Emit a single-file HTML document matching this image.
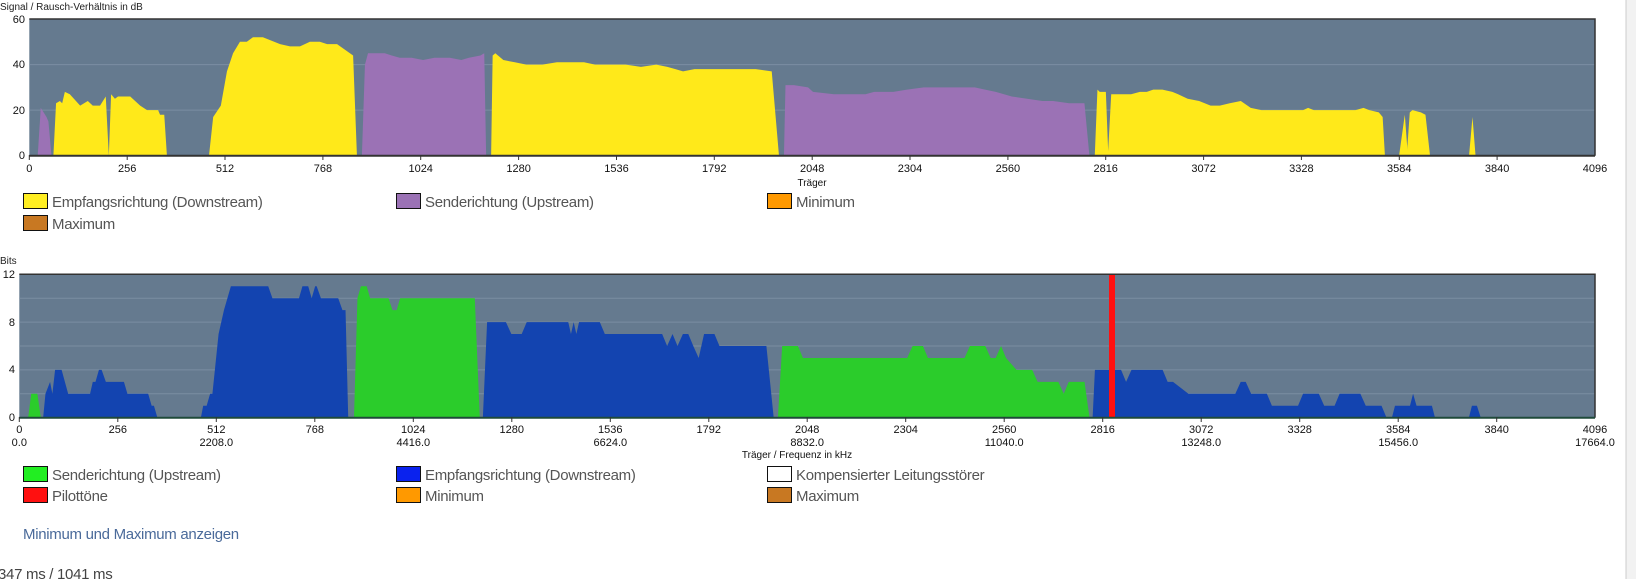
<!DOCTYPE html>
<html><head><meta charset="utf-8"><style>
html,body{margin:0;padding:0;background:#fff;width:1636px;height:579px;overflow:hidden;font-family:"Liberation Sans",sans-serif;}
.lg{position:absolute;font-size:15px;color:#555;white-space:nowrap;letter-spacing:-0.3px}
.lg i{display:inline-block;width:23px;height:14px;border:1px solid #111;vertical-align:-2px;margin-right:4px}
</style></head><body>
<svg width="1636" height="579" style="position:absolute;left:0;top:0" font-family="Liberation Sans, sans-serif">
<!-- TOP CHART -->
<text x="0" y="10" font-size="10" fill="#222">Signal / Rausch-Verhältnis in dB</text>
<rect x="29.3" y="19" width="1566" height="136.7" fill="#657a8f"/>
<g stroke="#7b8ea2" stroke-width="1"><line x1="29.3" x2="1595" y1="64.6" y2="64.6"/><line x1="29.3" x2="1595" y1="110.1" y2="110.1"/></g>
<g transform="translate(29.3,155.7) scale(0.3823,-2.278)">
<polygon fill="#9b72b5" points="22,0 30,21 45,17 50,15 58,0"/>
<polygon fill="#ffe91a" points="63,0 70,23 80,24 86,23 93,28 106,27 133,22 153,24 166,22 185,22 200,26 208,0 214,27 224,25 232,26 264,26 290,22 308,20 337,20 342,18 353,18 360,0"/>
<polygon fill="#ffe91a" points="470,0 481,17 501,22 517,37 533,45 551,50 569,50 585,52 611,52 656,49 682,48 708,48 734,50 760,50 779,49 805,49 847,44 857,0"/>
<polygon fill="#9b72b5" points="870,0 878,40 886,45 930,45 948,44 969,43 1000,43 1030,42 1060,43 1100,43 1130,42 1150,43 1180,44 1190,45 1195,0"/>
<polygon fill="#ffe91a" points="1208,0 1212,44 1219,45 1240,42 1270,41 1300,40 1342,40 1380,41 1420,41 1451,41 1480,40 1520,40 1560,40 1600,39 1640,40 1669,39 1690,38 1710,37 1740,38 1770,38 1805,38 1850,38 1900,38 1942,37 1961,0"/>
<polygon fill="#9b72b5" points="1974,0 1978,31 2000,31 2037,30 2050,28 2105,27 2150,27 2187,27 2210,28 2260,28 2296,29 2340,30 2378,30 2430,30 2473,30 2500,29 2528,28 2570,26 2610,25 2650,24 2678,24 2720,23 2760,23 2773,0"/>
<polygon fill="#ffe91a" points="2787,0 2794,29 2800,28 2816,28 2822,2 2830,27 2860,27 2882,27 2905,28 2923,28 2940,29 2964,29 2990,28 3005,27 3030,25 3060,24 3090,22 3114,22 3140,23 3169,24 3195,21 3223,20 3260,20 3300,20 3332,20 3345,21 3360,20 3430,20 3469,20 3490,21 3505,20 3530,19 3540,17 3546,0"/>
<polygon fill="#ffe91a" points="3583,0 3598,18 3606,0"/>
<polygon fill="#ffe91a" points="3603,0 3611,19 3618,20 3640,19 3652,18 3664,0"/>
<polygon fill="#ffe91a" points="3766,0 3775,17 3783,0"/>
</g>
<polyline points="29.3,19 1595,19 1595,155.7" fill="none" stroke="#333" stroke-width="1.5"/>
<line x1="29.3" y1="155.7" x2="1595" y2="155.7" stroke="#333" stroke-width="2"/>
<g font-size="11" fill="#111" text-anchor="end">
<text x="25" y="159">0</text><text x="25" y="114">20</text><text x="25" y="68">40</text><text x="25" y="23">60</text>
</g>
<g font-size="11" fill="#111" text-anchor="middle">
<text x="29.3" y="172">0</text><text x="127.2" y="172">256</text><text x="225" y="172">512</text><text x="322.9" y="172">768</text><text x="420.7" y="172">1024</text><text x="518.6" y="172">1280</text><text x="616.5" y="172">1536</text><text x="714.3" y="172">1792</text><text x="812.2" y="172">2048</text><text x="910" y="172">2304</text><text x="1007.9" y="172">2560</text><text x="1105.7" y="172">2816</text><text x="1203.6" y="172">3072</text><text x="1301.4" y="172">3328</text><text x="1399.3" y="172">3584</text><text x="1497.1" y="172">3840</text><text x="1595" y="172">4096</text>
<text x="812" y="186" font-size="10">Träger</text>
</g>
<g stroke="#333"><line x1="29.3" x2="29.3" y1="155" y2="160"/><line x1="127.2" x2="127.2" y1="155" y2="160"/><line x1="225" x2="225" y1="155" y2="160"/><line x1="322.9" x2="322.9" y1="155" y2="160"/><line x1="420.7" x2="420.7" y1="155" y2="160"/><line x1="518.6" x2="518.6" y1="155" y2="160"/><line x1="616.5" x2="616.5" y1="155" y2="160"/><line x1="714.3" x2="714.3" y1="155" y2="160"/><line x1="812.2" x2="812.2" y1="155" y2="160"/><line x1="910" x2="910" y1="155" y2="160"/><line x1="1007.9" x2="1007.9" y1="155" y2="160"/><line x1="1105.7" x2="1105.7" y1="155" y2="160"/><line x1="1203.6" x2="1203.6" y1="155" y2="160"/><line x1="1301.4" x2="1301.4" y1="155" y2="160"/><line x1="1399.3" x2="1399.3" y1="155" y2="160"/><line x1="1497.1" x2="1497.1" y1="155" y2="160"/></g>

<!-- BOTTOM CHART -->
<text x="0" y="264" font-size="10" fill="#222">Bits</text>
<rect x="19.3" y="274.3" width="1575.7" height="143.4" fill="#657a8f"/>
<g stroke="#7b8ea2" stroke-width="1"><line x1="19.3" x2="1595" y1="298.2" y2="298.2"/><line x1="19.3" x2="1595" y1="322.1" y2="322.1"/><line x1="19.3" x2="1595" y1="346" y2="346"/><line x1="19.3" x2="1595" y1="369.9" y2="369.9"/><line x1="19.3" x2="1595" y1="393.8" y2="393.8"/></g>
<g transform="translate(19.3,417.7) scale(0.3847,-11.95)">
<polygon fill="#2bcc2b" points="23,0 31,2 47,2 56,0"/>
<polygon fill="#1344b0" points="62,0 68,2 80,3 86,2 93,4 110,4 127,2 184,2 191,3 198,3 207,4 214,4 225,3 272,3 281,2 335,2 344,1 350,1 359,0"/>
<polygon fill="#1344b0" points="472,0 478,1 487,1 496,2 502,2 518,7 532,9 550,11 647,11 658,10 727,10 736,11 751,11 760,10 769,11 773,11 784,10 829,10 840,9 848,9 855,0"/>
<polygon fill="#2bcc2b" points="870,0 879,10 888,11 903,11 912,10 960,10 970,9 981,9 990,10 1184,10 1197,0"/>
<polygon fill="#1344b0" points="1205,0 1216,8 1265,8 1279,7 1306,7 1319,8 1427,8 1434,7 1441,8 1448,7 1455,8 1509,8 1522,7 1671,7 1684,6 1698,7 1711,6 1725,7 1739,7 1752,6 1766,5 1780,7 1807,7 1820,6 1942,6 1961,0"/>
<polygon fill="#2bcc2b" points="1972,0 1983,6 2024,6 2037,5 2308,5 2322,6 2349,6 2362,5 2457,5 2471,6 2511,6 2525,5 2538,5 2552,6 2565,5 2592,4 2633,4 2647,3 2701,3 2715,2 2728,3 2769,3 2782,0"/>
<polygon fill="#1344b0" points="2790,0 2796,4 2864,4 2877,3 2891,4 2972,4 2985,3 2999,3 3039,2 3161,2 3175,3 3188,3 3202,2 3243,2 3256,1 3324,1 3337,2 3378,2 3392,1 3419,1 3432,2 3486,2 3500,1 3541,1 3554,0"/>
<polygon fill="#1344b0" points="3568,0 3576,1 3615,1 3623,2 3632,1 3672,1 3680,0"/>
<polygon fill="#1344b0" points="3768,0 3776,1 3789,1 3799,0"/>
</g>
<rect x="1109" y="274.3" width="6" height="143.4" fill="#ff1010"/>
<polyline points="19.3,274.3 1595,274.3 1595,417.7" fill="none" stroke="#333" stroke-width="1.5"/>
<line x1="19.3" y1="417.7" x2="1595" y2="417.7" stroke="#1f4a3a" stroke-width="2"/>
<g font-size="11" fill="#111" text-anchor="end">
<text x="15" y="421">0</text><text x="15" y="373">4</text><text x="15" y="326">8</text><text x="15" y="278">12</text>
</g>
<g font-size="11" fill="#111" text-anchor="middle">
<text x="19.3" y="433">0</text><text x="117.8" y="433">256</text><text x="216.3" y="433">512</text><text x="314.8" y="433">768</text><text x="413.3" y="433">1024</text><text x="511.8" y="433">1280</text><text x="610.3" y="433">1536</text><text x="708.8" y="433">1792</text><text x="807.2" y="433">2048</text><text x="905.7" y="433">2304</text><text x="1004.2" y="433">2560</text><text x="1102.7" y="433">2816</text><text x="1201.2" y="433">3072</text><text x="1299.7" y="433">3328</text><text x="1398.2" y="433">3584</text><text x="1496.7" y="433">3840</text><text x="1595" y="433">4096</text>
<text x="19.3" y="446">0.0</text><text x="216.3" y="446">2208.0</text><text x="413.3" y="446">4416.0</text><text x="610.3" y="446">6624.0</text><text x="807.2" y="446">8832.0</text><text x="1004.2" y="446">11040.0</text><text x="1201.2" y="446">13248.0</text><text x="1398.2" y="446">15456.0</text><text x="1595" y="446">17664.0</text>
<text x="797" y="458" font-size="10">Träger / Frequenz in kHz</text>
</g>
<g stroke="#333"><line x1="19.3" x2="19.3" y1="417" y2="422"/><line x1="117.8" x2="117.8" y1="417" y2="422"/><line x1="216.3" x2="216.3" y1="417" y2="422"/><line x1="314.8" x2="314.8" y1="417" y2="422"/><line x1="413.3" x2="413.3" y1="417" y2="422"/><line x1="511.8" x2="511.8" y1="417" y2="422"/><line x1="610.3" x2="610.3" y1="417" y2="422"/><line x1="708.8" x2="708.8" y1="417" y2="422"/><line x1="807.2" x2="807.2" y1="417" y2="422"/><line x1="905.7" x2="905.7" y1="417" y2="422"/><line x1="1004.2" x2="1004.2" y1="417" y2="422"/><line x1="1102.7" x2="1102.7" y1="417" y2="422"/><line x1="1201.2" x2="1201.2" y1="417" y2="422"/><line x1="1299.7" x2="1299.7" y1="417" y2="422"/><line x1="1398.2" x2="1398.2" y1="417" y2="422"/><line x1="1496.7" x2="1496.7" y1="417" y2="422"/></g>
<rect x="1626" y="0" width="10" height="579" fill="#f2f2f2"/>
<line x1="1626" y1="0" x2="1626" y2="579" stroke="#ccc"/>
</svg>

<div class="lg" style="left:23px;top:193px"><i style="background:#ffee22"></i>Empfangsrichtung (Downstream)</div>
<div class="lg" style="left:396px;top:193px"><i style="background:#9b72b5"></i>Senderichtung (Upstream)</div>
<div class="lg" style="left:767px;top:193px"><i style="background:#ff9900"></i>Minimum</div>
<div class="lg" style="left:23px;top:215px"><i style="background:#c87822"></i>Maximum</div>

<div class="lg" style="left:23px;top:466px"><i style="background:#22ee22"></i>Senderichtung (Upstream)</div>
<div class="lg" style="left:396px;top:466px"><i style="background:#0a22ee"></i>Empfangsrichtung (Downstream)</div>
<div class="lg" style="left:767px;top:466px"><i style="background:#fff"></i>Kompensierter Leitungsstörer</div>
<div class="lg" style="left:23px;top:487px"><i style="background:#ff1010"></i>Pilottöne</div>
<div class="lg" style="left:396px;top:487px"><i style="background:#ff9900"></i>Minimum</div>
<div class="lg" style="left:767px;top:487px"><i style="background:#c87822"></i>Maximum</div>

<div class="lg" style="left:23px;top:526px;color:#4a6a9a">Minimum und Maximum anzeigen</div>
<div class="lg" style="left:-2px;top:566px;color:#444">347 ms / 1041 ms</div>
</body></html>
